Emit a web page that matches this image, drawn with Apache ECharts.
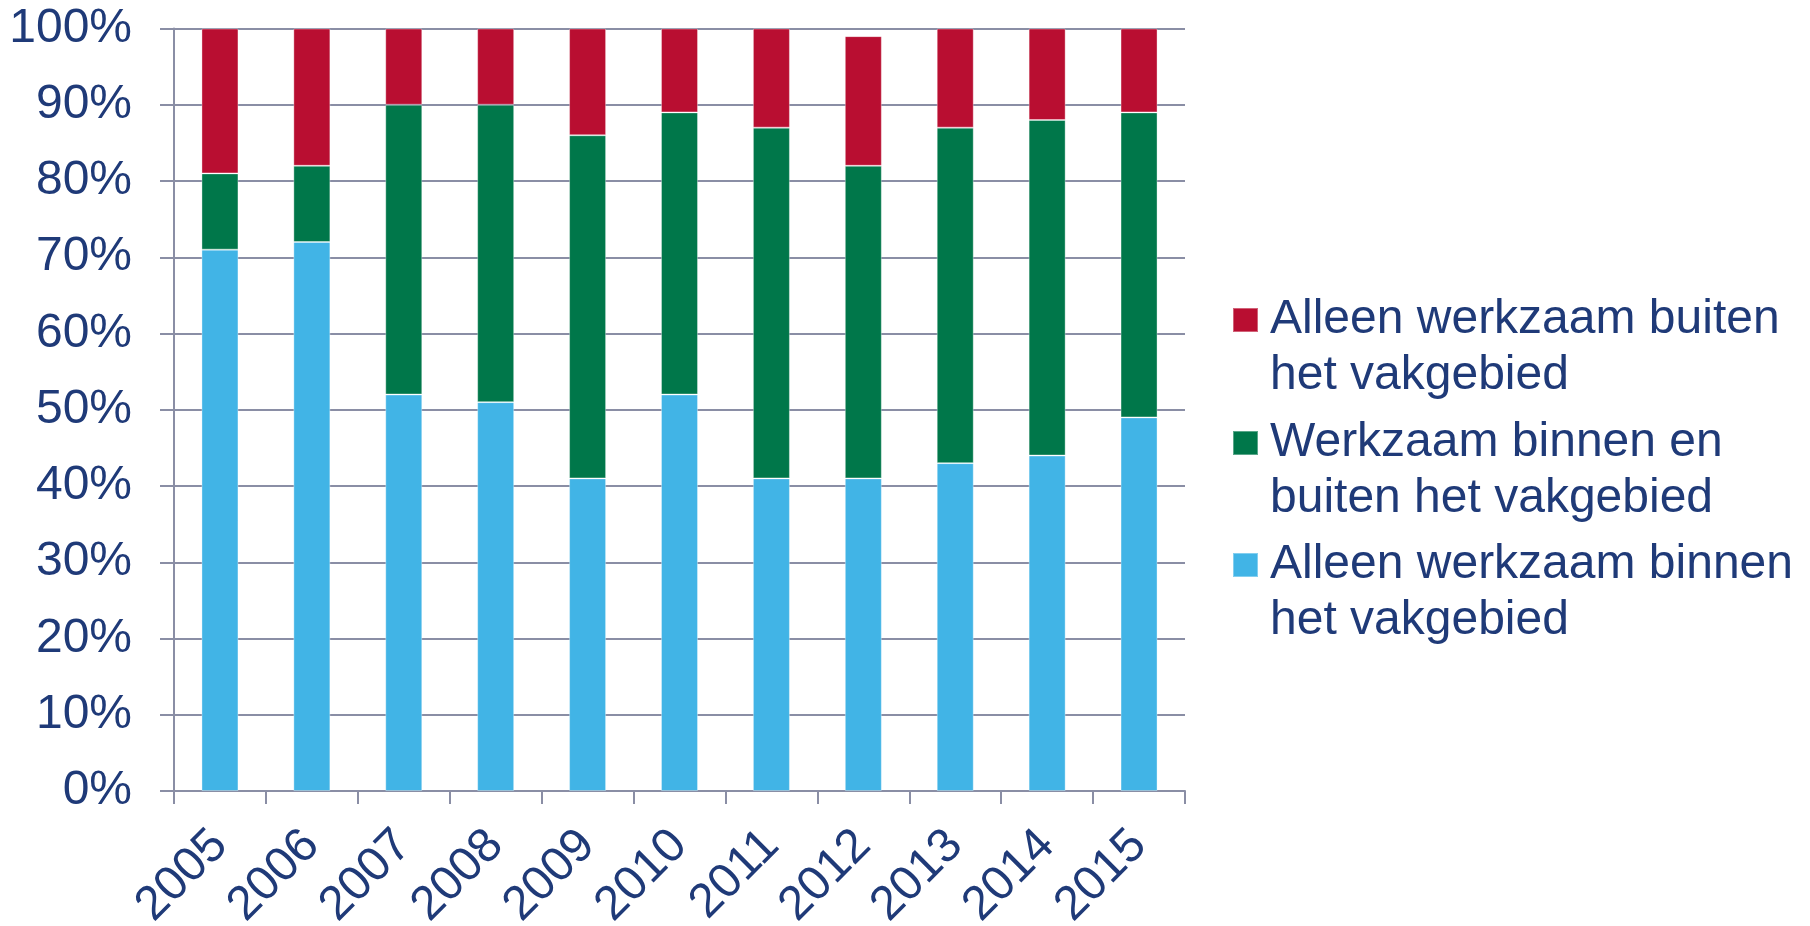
<!DOCTYPE html>
<html>
<head>
<meta charset="utf-8">
<script src="https://cdn.jsdelivr.net/npm/echarts@6/dist/echarts.min.js"></script>
<style>
html,body{margin:0;padding:0;background:#fff;}
#c{width:1810px;height:926px;}
</style>
</head>
<body>
<div id="c"></div>
<script>
const years = ['2005','2006','2007','2008','2009','2010','2011','2012','2013','2014','2015'];
const alleenBinnen = [71, 72, 52, 51, 41, 52, 41, 41, 43, 44, 49];
const binnenEnBuiten = [10, 10, 38, 39, 45, 37, 46, 41, 44, 44, 40];
const alleenBuiten = [19, 18, 10, 10, 14, 11, 13, 17, 13, 12, 11];
const names = ['Alleen werkzaam buiten\nhet vakgebied', 'Werkzaam binnen en\nbuiten het vakgebied', 'Alleen werkzaam binnen\nhet vakgebied'];
const colors = ['#B90E31', '#00774A', '#41B4E6'];
const yTicks = {min: 0, max: 100, interval: 10};

const navy = '#1F3A78';
const gridCol = '#8A8EA5';
const font = 'Liberation Sans, Arial, sans-serif';

const chart = echarts.init(document.getElementById('c'), null, {renderer: 'canvas'});

const legendTops = [236, 359, 481];
const legends = names.map((n, i) => ({
  data: [n],
  orient: 'vertical',
  left: 1232,
  top: legendTops[i],
  padding: 0,
  itemWidth: 25,
  itemHeight: 24,
  icon: 'rect',
  formatter: function (name) { return '\n' + name; },
  textStyle: {
    color: navy,
    fontSize: 48,
    fontFamily: font,
    lineHeight: 56,
    padding: [0, 0, 0, 7]
  }
}));

const barStyle = c => ({color: c, borderColor: 'rgba(255,255,255,0.35)', borderWidth: 1});

chart.setOption({
  animation: false,
  color: colors,
  legend: legends,
  grid: {left: 174, right: 625, top: 28.5, bottom: 135, containLabel: false, outerBoundsMode: 'none'},
  xAxis: {
    type: 'category',
    data: years,
    boundaryGap: true,
    axisLine: {show: true, lineStyle: {color: gridCol, width: 2}},
    axisTick: {show: true, length: 13, lineStyle: {color: gridCol, width: 2}},
    axisLabel: {rotate: 45, margin: 47, color: navy, fontSize: 48, fontFamily: font, interval: 0}
  },
  yAxis: {
    type: 'value',
    min: yTicks.min, max: yTicks.max, interval: yTicks.interval,
    axisLine: {show: true, lineStyle: {color: gridCol, width: 2}},
    axisTick: {show: true, length: 14, lineStyle: {color: gridCol, width: 2}},
    splitLine: {show: true, lineStyle: {color: gridCol, width: 2}},
    axisLabel: {formatter: '{value}%', margin: 42, color: navy, fontSize: 48, fontFamily: font}
  },
  series: [
    {name: names[2], type: 'bar', stack: 's', data: alleenBinnen, barWidth: 37, itemStyle: barStyle(colors[2])},
    {name: names[1], type: 'bar', stack: 's', data: binnenEnBuiten, barWidth: 37, itemStyle: barStyle(colors[1])},
    {name: names[0], type: 'bar', stack: 's', data: alleenBuiten, barWidth: 37, itemStyle: barStyle(colors[0])}
  ]
});
</script>
</body>
</html>
